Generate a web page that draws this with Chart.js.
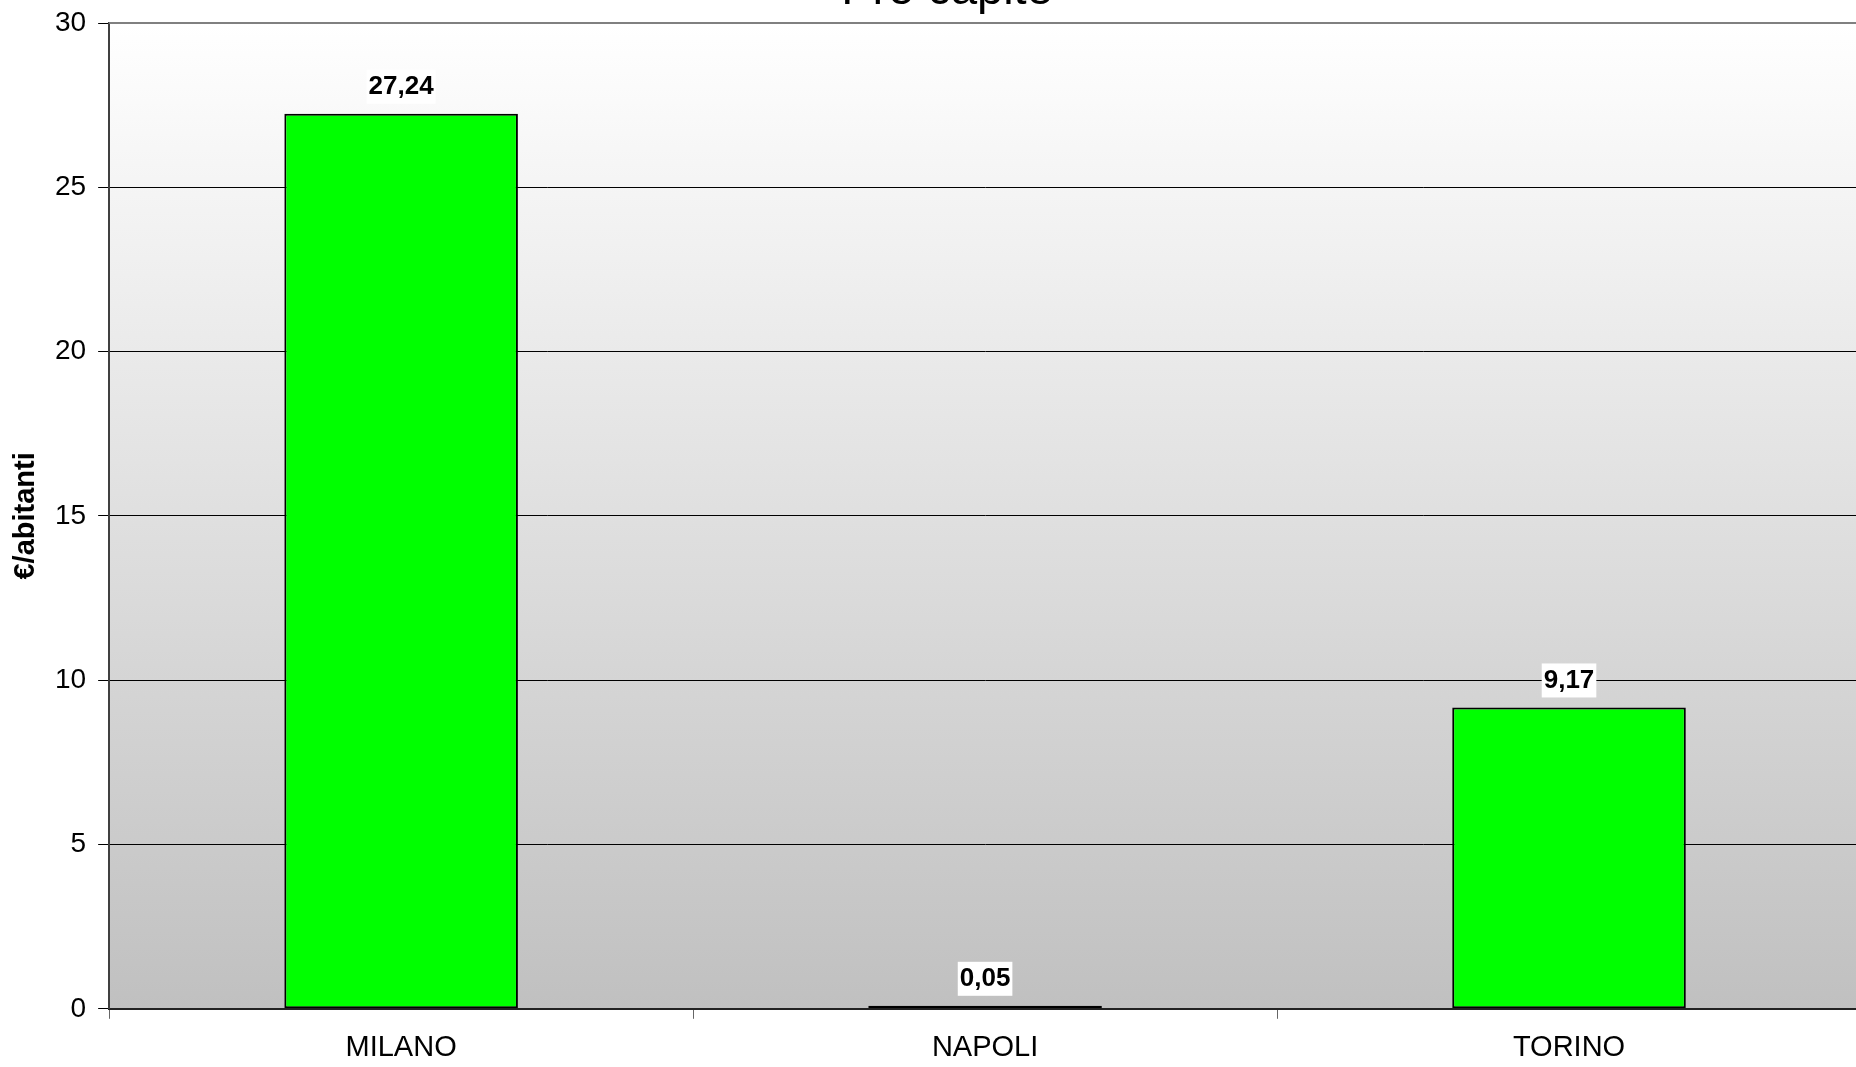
<!DOCTYPE html>
<html>
<head>
<meta charset="utf-8">
<script src="https://cdn.jsdelivr.net/npm/chart.js@4.4.1/dist/chart.umd.min.js"></script>
<style>
  html, body { margin: 0; padding: 0; overflow: hidden; background: #fff; }
  #wrap { position: absolute; top: -40px; left: 0; width: 1900px; height: 1119px; }
</style>
</head>
<body>
<div id="wrap"><canvas id="chart" width="1900" height="1119"></canvas></div>
<script>
const cities = ['MILANO', 'NAPOLI', 'TORINO'];
const perCapita = [27.24, 0.05, 9.17];
const chartTitle = 'Pro capite';
const yAxisTitle = '€/abitanti';

// Plot area background: vertical gradient white -> silver, plus gray top border
const plotBackground = {
    id: 'plotBackground',
    beforeDraw(chart) {
        const { ctx, chartArea: a } = chart;
        const grad = ctx.createLinearGradient(0, a.top, 0, a.bottom);
        grad.addColorStop(0, '#ffffff');
        grad.addColorStop(1, '#c0c0c0');
        ctx.save();
        ctx.fillStyle = grad;
        ctx.fillRect(a.left, a.top, a.right - a.left, a.bottom - a.top);
        ctx.restore();
    },
    afterDraw(chart) {
        const { ctx, chartArea: a } = chart;
        ctx.save();
        ctx.strokeStyle = '#808080';
        ctx.lineWidth = 2;
        ctx.beginPath();
        ctx.moveTo(a.left, a.top);
        ctx.lineTo(a.right, a.top);
        ctx.stroke();
        ctx.restore();
    }
};

// Value labels over the bars, in a white box
const valueLabels = {
    id: 'valueLabels',
    afterDatasetsDraw(chart) {
        const { ctx } = chart;
        const meta = chart.getDatasetMeta(0);
        ctx.save();
        ctx.font = 'bold 26px "Liberation Sans", Arial, sans-serif';
        ctx.textAlign = 'center';
        ctx.textBaseline = 'middle';
        meta.data.forEach((bar, i) => {
            const text = perCapita[i].toFixed(2).replace('.', ',');
            const w = ctx.measureText(text).width + 4;
            const h = 34;
            const bottom = bar.y - 10;
            ctx.fillStyle = '#ffffff';
            ctx.fillRect(bar.x - w / 2, bottom - h, w, h);
            ctx.fillStyle = '#000000';
            ctx.fillText(text, bar.x, bottom - h / 2);
        });
        ctx.restore();
    }
};

new Chart(document.getElementById('chart'), {
    type: 'bar',
    data: {
        labels: cities,
        datasets: [{
            data: perCapita,
            backgroundColor: '#00ff00',
            borderColor: '#000000',
            borderWidth: 2,
            borderSkipped: false,
            minBarLength: 3,
            barPercentage: 0.4,
            categoryPercentage: 1
        }]
    },
    options: {
        responsive: false,
        animation: false,
        devicePixelRatio: 1,
        layout: { padding: { left: 33, right: 39, top: 0, bottom: 1.4 } },
        plugins: {
            legend: { display: false },
            tooltip: { enabled: false },
            title: {
                display: true,
                text: chartTitle,
                color: '#000',
                font: { family: '"Liberation Sans", Arial, sans-serif', size: 47, weight: 'normal' },
                padding: { top: 2.5, bottom: 4.1 }
            }
        },
        scales: {
            x: {
                grid: {
                    offset: true,
                    drawOnChartArea: false,
                    drawTicks: true,
                    tickLength: 10,
                    color: '#666'
                },
                border: { color: '#222', width: 2 },
                ticks: {
                    color: '#000',
                    padding: 12,
                    font: { family: '"Liberation Sans", Arial, sans-serif', size: 29 }
                }
            },
            y: {
                min: 0,
                max: 30,
                ticks: {
                    stepSize: 5,
                    color: '#000',
                    padding: 12,
                    font: { family: '"Liberation Sans", Arial, sans-serif', size: 28 }
                },
                grid: { color: '#000', lineWidth: 1, tickLength: 11 },
                border: { color: '#404040', width: 2 },
                title: {
                    display: true,
                    text: yAxisTitle,
                    color: '#000',
                    font: { family: '"Liberation Sans Narrow", "Liberation Sans", Arial, sans-serif', size: 29, weight: 'bold' },
                    padding: { top: -24.4, bottom: -0.4 }
                }
            }
        }
    },
    plugins: [plotBackground, valueLabels]
});
</script>
</body>
</html>
